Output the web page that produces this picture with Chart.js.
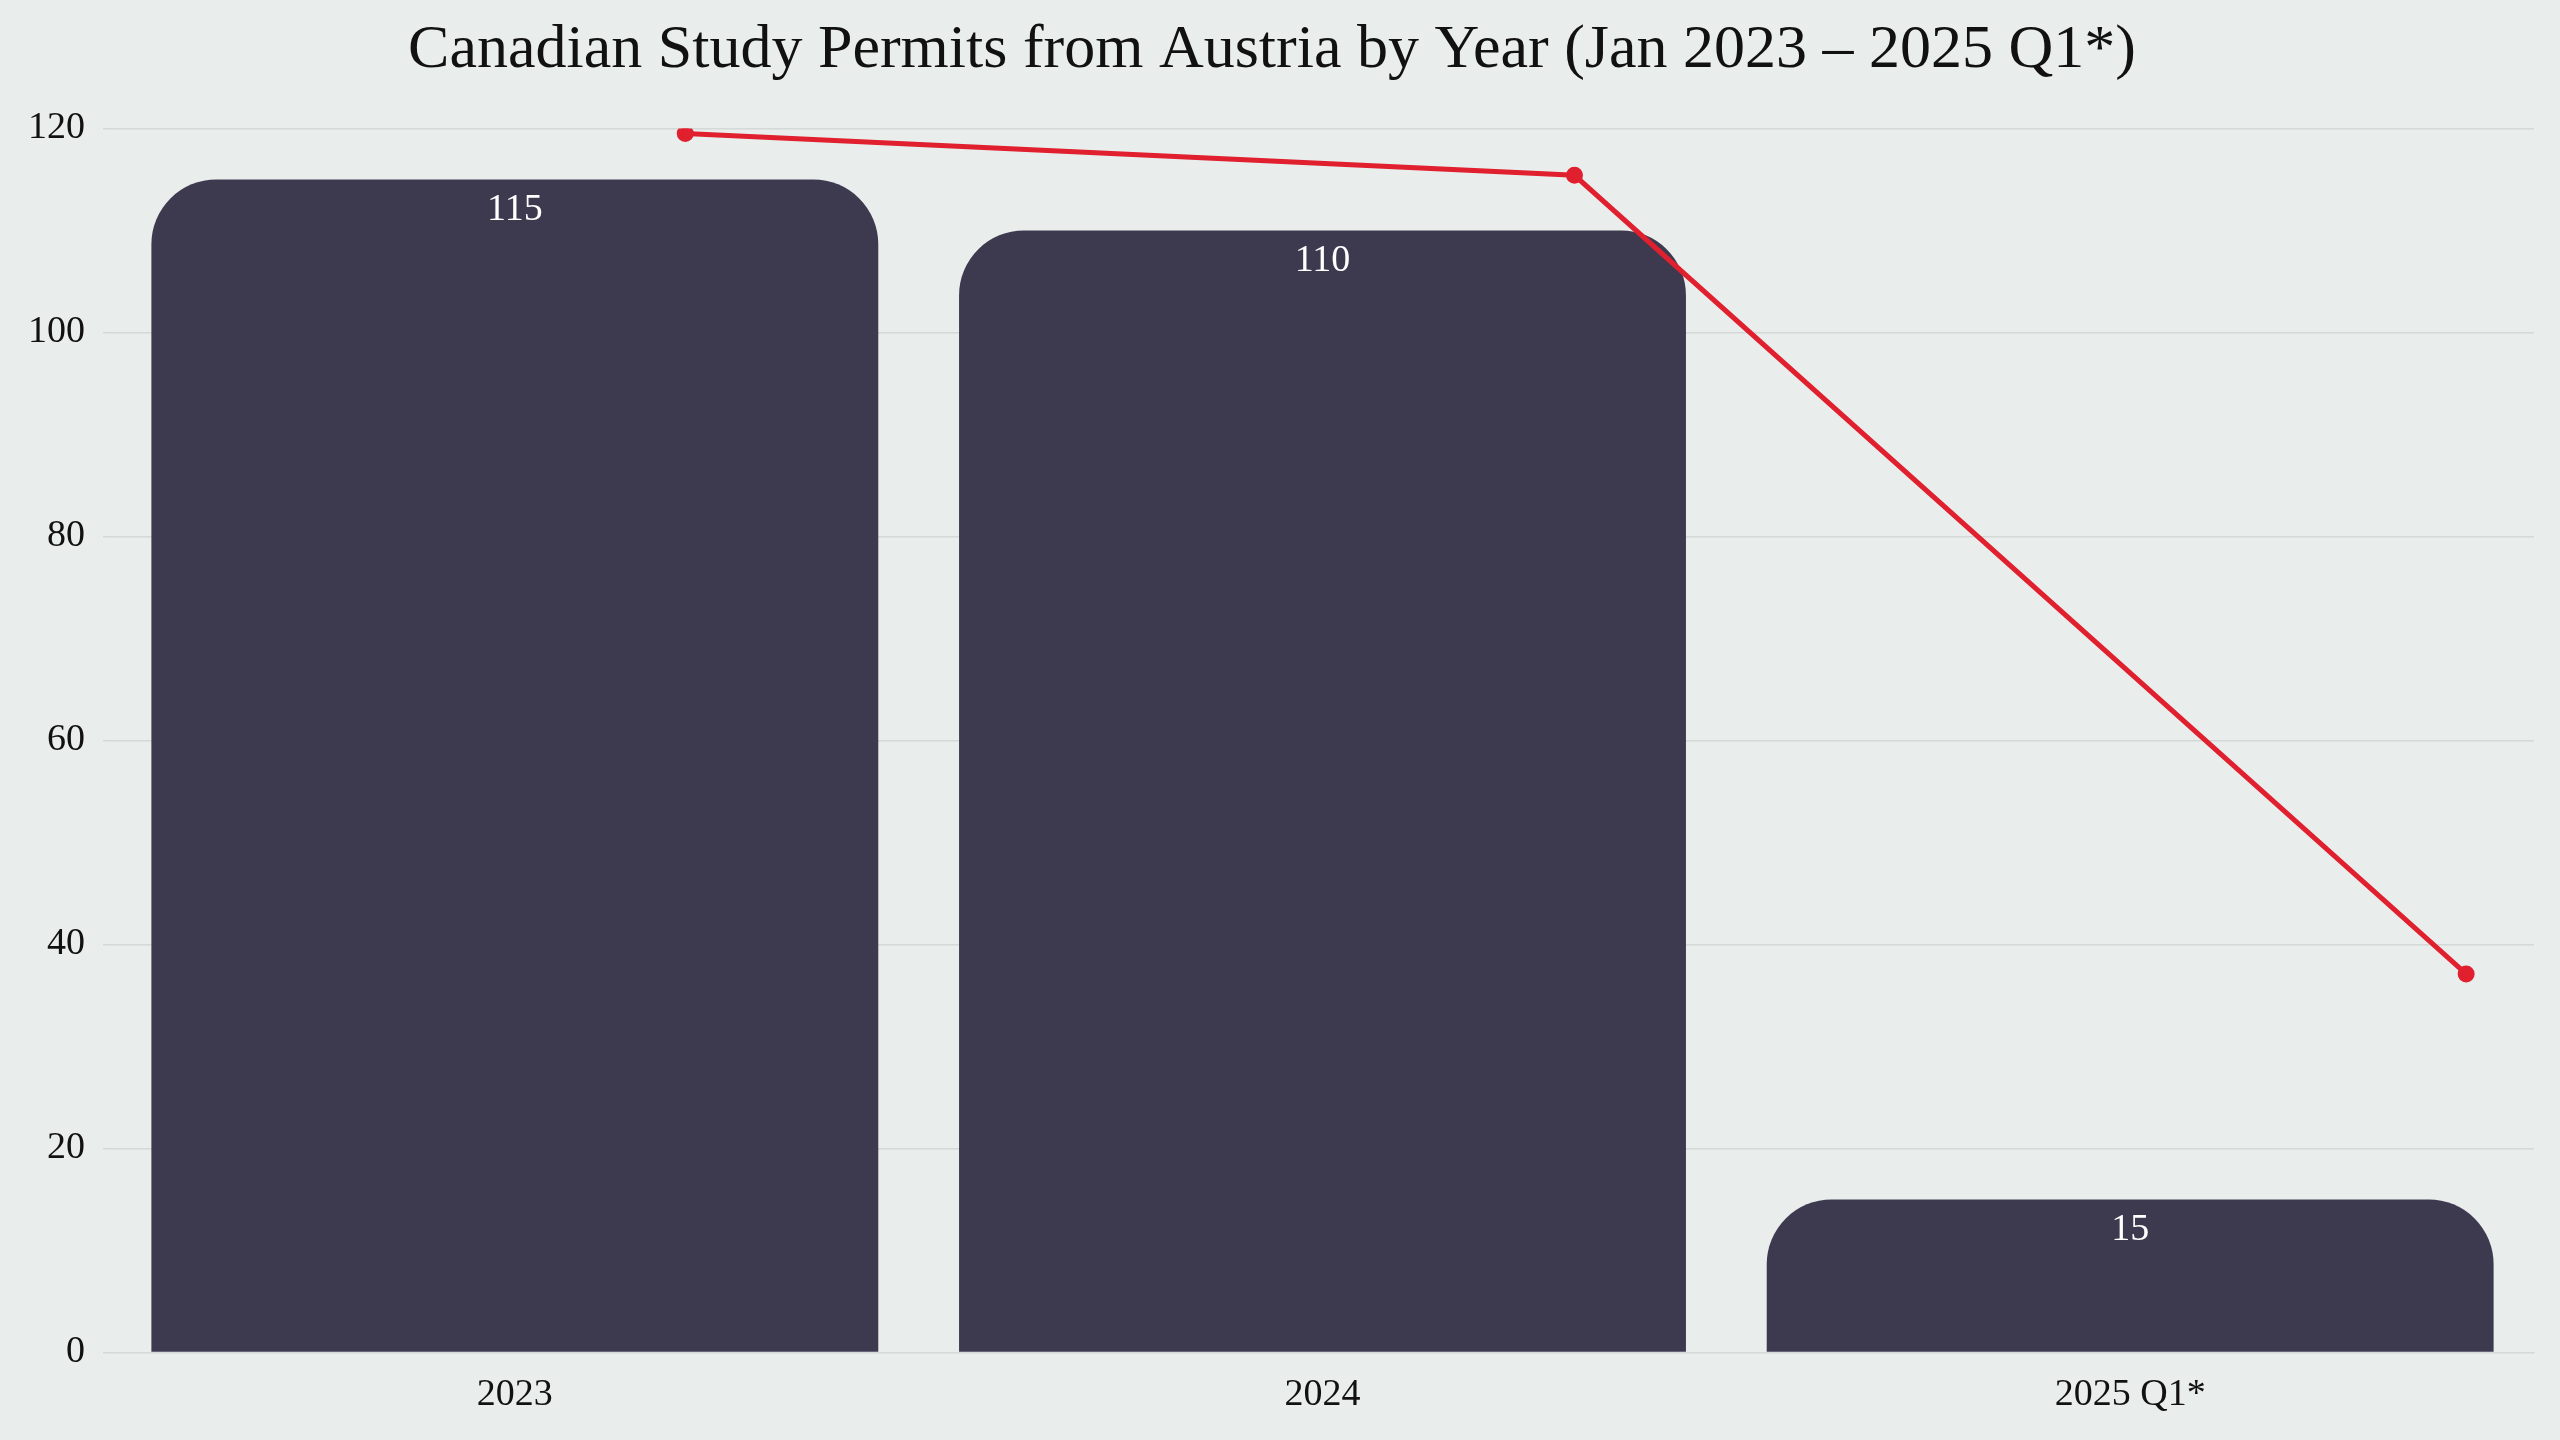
<!DOCTYPE html>
<html>
<head>
    <title>Canadian Study Permits from Austria</title>
    <script src="https://cdn.jsdelivr.net/npm/chart.js"></script>
    <style>
        html, body { margin: 0; padding: 0; background: #e9eeec; }
        #wrap { width: 2560px; height: 1440px; }
    </style>
</head>
<body>
    <div id="wrap"><canvas id="myChart" width="2560" height="1440"></canvas></div>
    <script>
        // data
        const years = ['2023', '2024', '2025 Q1*'];
        const permits = [115, 110, 15];
        const trendPos = [0.237, 0.604, 0.972];
        const trendValues = [119.5, 115.4, 37.1];

        const FONT = "'Liberation Serif', 'DejaVu Serif', serif";

        // value labels inside bar tops
        const barLabels = {
            id: 'barLabels',
            afterDatasetsDraw(chart) {
                const ctx = chart.ctx;
                const meta = chart.getDatasetMeta(0);
                ctx.save();
                ctx.fillStyle = '#ffffff';
                ctx.font = '38px ' + FONT;
                ctx.textAlign = 'center';
                ctx.textBaseline = 'top';
                meta.data.forEach((bar, i) => {
                    ctx.fillText(permits[i], bar.x, bar.y + 12);
                });
                ctx.restore();
            }
        };

        Chart.defaults.font.family = FONT;
        const ctx = document.getElementById('myChart').getContext('2d');
        new Chart(ctx, {
            data: {
                labels: years,
                datasets: [{
                    type: 'bar',
                    data: permits,
                    backgroundColor: '#3d3a50',
                    borderRadius: { topLeft: 65, topRight: 65 },
                    borderSkipped: 'bottom',
                    grouped: false,
                    categoryPercentage: 0.9,
                    barPercentage: 1.0,
                    order: 2
                }, {
                    type: 'line',
                    data: trendPos.map((x, i) => ({ x: x, y: trendValues[i] })),
                    xAxisID: 'x2',
                    borderColor: '#e0202e',
                    backgroundColor: '#e0202e',
                    borderWidth: 5,
                    pointRadius: 6,
                    pointHoverRadius: 6,
                    order: 1
                }]
            },
            options: {
                responsive: false,
                animation: false,
                layout: { padding: { left: 10, right: 26, top: 10, bottom: 10 } },
                plugins: {
                    legend: { display: false },
                    tooltip: { enabled: false },
                    title: {
                        display: true,
                        text: 'Canadian Study Permits from Austria by Year (Jan 2023 – 2025 Q1*)',
                        color: '#111111',
                        font: { size: 62, weight: 'normal' },
                        padding: { top: 4, bottom: 40 }
                    }
                },
                scales: {
                    x: {
                        grid: { display: false },
                        border: { color: '#d4d8d6' },
                        ticks: { color: '#111111', font: { size: 38 }, padding: 12 }
                    },
                    x2: {
                        type: 'linear',
                        display: false,
                        min: 0,
                        max: 1
                    },
                    y: {
                        min: 0,
                        max: 120,
                        grid: { color: '#d4d8d6', lineWidth: 1.5 },
                        border: { display: false },
                        ticks: { stepSize: 20, color: '#111111', font: { size: 38 }, padding: 18 }
                    }
                }
            },
            plugins: [barLabels]
        });
    </script>
</body>
</html>
